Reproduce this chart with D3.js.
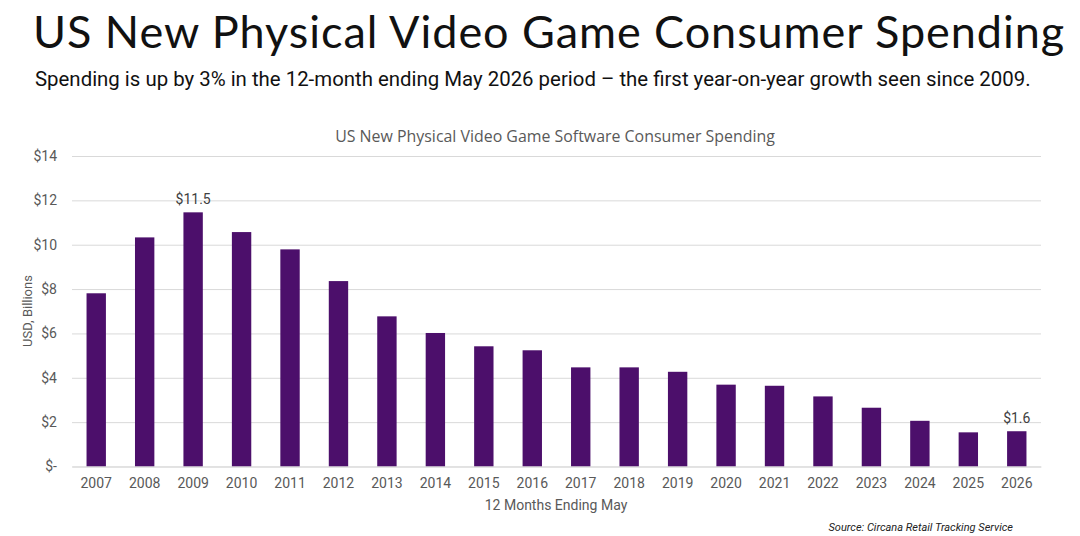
<!DOCTYPE html>
<html>
<head>
<meta charset="utf-8">
<script src="https://cdn.jsdelivr.net/npm/d3@7"></script>
<style>
  body { margin: 0; background: #fff; }
  svg text { font-family: "Liberation Sans Narrow", Roboto, sans-serif; }
</style>
</head>
<body>
<div id="chart"></div>
<script>
// Chart data
var years = ["2007", "2008", "2009", "2010", "2011", "2012", "2013", "2014", "2015", "2016",
  "2017", "2018", "2019", "2020", "2021", "2022", "2023", "2024", "2025", "2026"];
var spending = [7.81, 10.33, 11.46, 10.57, 9.79, 8.36, 6.77, 6.02, 5.42, 5.24,
  4.47, 4.47, 4.27, 3.69, 3.64, 3.16, 2.65, 2.06, 1.54, 1.59];
var yTicks = [0, 2, 4, 6, 8, 10, 12, 14];
var labelled = { "2009": "$11.5", "2026": "$1.6" };

var svgWidth = 1080;
var svgHeight = 536;

var margin = { top: 156, right: 39, bottom: 69.5, left: 72 };
var width = svgWidth - margin.left - margin.right;
var height = svgHeight - margin.top - margin.bottom;

var svg = d3.select("#chart")
  .append("svg")
  .attr("width", svgWidth)
  .attr("height", svgHeight);

// scale a text's font size so it spans the wanted width
function fitWidth(sel, target) {
  var fs = +sel.attr("font-size");
  var w = sel.node().getComputedTextLength();
  sel.attr("font-size", (fs * target / w).toFixed(2));
}

// keep the font size, spread letters to reach the width instead
function spreadWidth(sel, target) {
  var w = sel.node().getComputedTextLength();
  var n = sel.text().length;
  sel.attr("letter-spacing", ((target - w) / n).toFixed(2));
}

// Headline + subtitle
var headline = svg.append("text")
  .attr("x", 33)
  .attr("y", 48)
  .style("font-family", "Lato, 'Open Sans', sans-serif")
  .attr("font-size", 45)
  .attr("fill", "#111")
  .text("US New Physical Video Game Consumer Spending");
spreadWidth(headline, 1032);

var subtitle = svg.append("text")
  .attr("x", 35)
  .attr("y", 86)
  .attr("font-size", 22)
  .attr("fill", "#111")
  .text("Spending is up by 3% in the 12-month ending May 2026 period \u2013 the first year-on-year growth seen since 2009.");
fitWidth(subtitle, 996);

// Chart title
var chartTitle = svg.append("text")
  .attr("x", 555)
  .attr("y", 142)
  .attr("text-anchor", "middle")
  .style("font-family", "'Open Sans', sans-serif")
  .attr("font-size", 16)
  .attr("fill", "#595959")
  .text("US New Physical Video Game Software Consumer Spending");
fitWidth(chartTitle, 440);

var chartGroup = svg.append("g")
  .attr("transform", `translate(${margin.left}, ${margin.top})`);

var xScale = d3.scaleBand()
  .domain(years)
  .range([0, width])
  .paddingInner(0.6)
  .paddingOuter(0.3);

var yScale = d3.scaleLinear()
  .domain([0, 14])
  .range([height, 0]);

// gridlines
chartGroup.append("g")
  .call(d3.axisLeft(yScale).tickValues(yTicks).tickSize(-width).tickFormat(""))
  .call(g => g.select(".domain").remove())
  .call(g => g.selectAll("line").attr("stroke", "#d9d9d9").attr("stroke-width", 1));

// y labels
var leftAxis = d3.axisLeft(yScale)
  .tickValues(yTicks)
  .tickSize(0)
  .tickPadding(15)
  .tickFormat(d => d === 0 ? "$-" : "$" + d);

chartGroup.append("g")
  .call(leftAxis)
  .call(g => g.select(".domain").remove())
  .call(g => g.selectAll("text")
    .attr("font-size", 14)
    .attr("fill", "#595959")
    .style("font-family", "'Liberation Sans Narrow', Roboto, sans-serif"));

// bars
chartGroup.selectAll("rect.bar")
  .data(years)
  .enter()
  .append("rect")
  .attr("class", "bar")
  .attr("x", d => xScale(d))
  .attr("y", (d, i) => yScale(spending[i]))
  .attr("width", xScale.bandwidth())
  .attr("height", (d, i) => height - yScale(spending[i]))
  .attr("fill", "#4c0f6b");

// x labels
var bottomAxis = d3.axisBottom(xScale).tickSize(0).tickPadding(12);
chartGroup.append("g")
  .attr("transform", `translate(0, ${height})`)
  .call(bottomAxis)
  .call(g => g.select(".domain").attr("stroke", "#d9d9d9"))
  .call(g => g.selectAll("text")
    .attr("font-size", 14)
    .attr("fill", "#595959")
    .style("font-family", "'Liberation Sans Narrow', Roboto, sans-serif"));

// data labels
chartGroup.selectAll("text.val")
  .data(years.filter(d => labelled[d]))
  .enter()
  .append("text")
  .attr("class", "val")
  .attr("x", d => xScale(d) + xScale.bandwidth() / 2)
  .attr("y", d => yScale(spending[years.indexOf(d)]) - 8)
  .attr("text-anchor", "middle")
  .attr("font-size", 14)
  .attr("fill", "#404040")
  .text(d => labelled[d]);

// axis titles
svg.append("text")
  .attr("transform", "rotate(-90)")
  .attr("x", -311)
  .attr("y", 32)
  .attr("text-anchor", "middle")
  .attr("font-size", 13)
  .attr("fill", "#595959")
  .text("USD, Billions");

svg.append("text")
  .attr("x", 556)
  .attr("y", 510)
  .attr("text-anchor", "middle")
  .attr("font-size", 14)
  .attr("fill", "#595959")
  .text("12 Months Ending May");

svg.append("text")
  .attr("x", 1013)
  .attr("y", 531)
  .attr("text-anchor", "end")
  .attr("font-size", 11)
  .attr("font-style", "italic")
  .attr("fill", "#222")
  .text("Source: Circana Retail Tracking Service");
</script>
</body>
</html>
